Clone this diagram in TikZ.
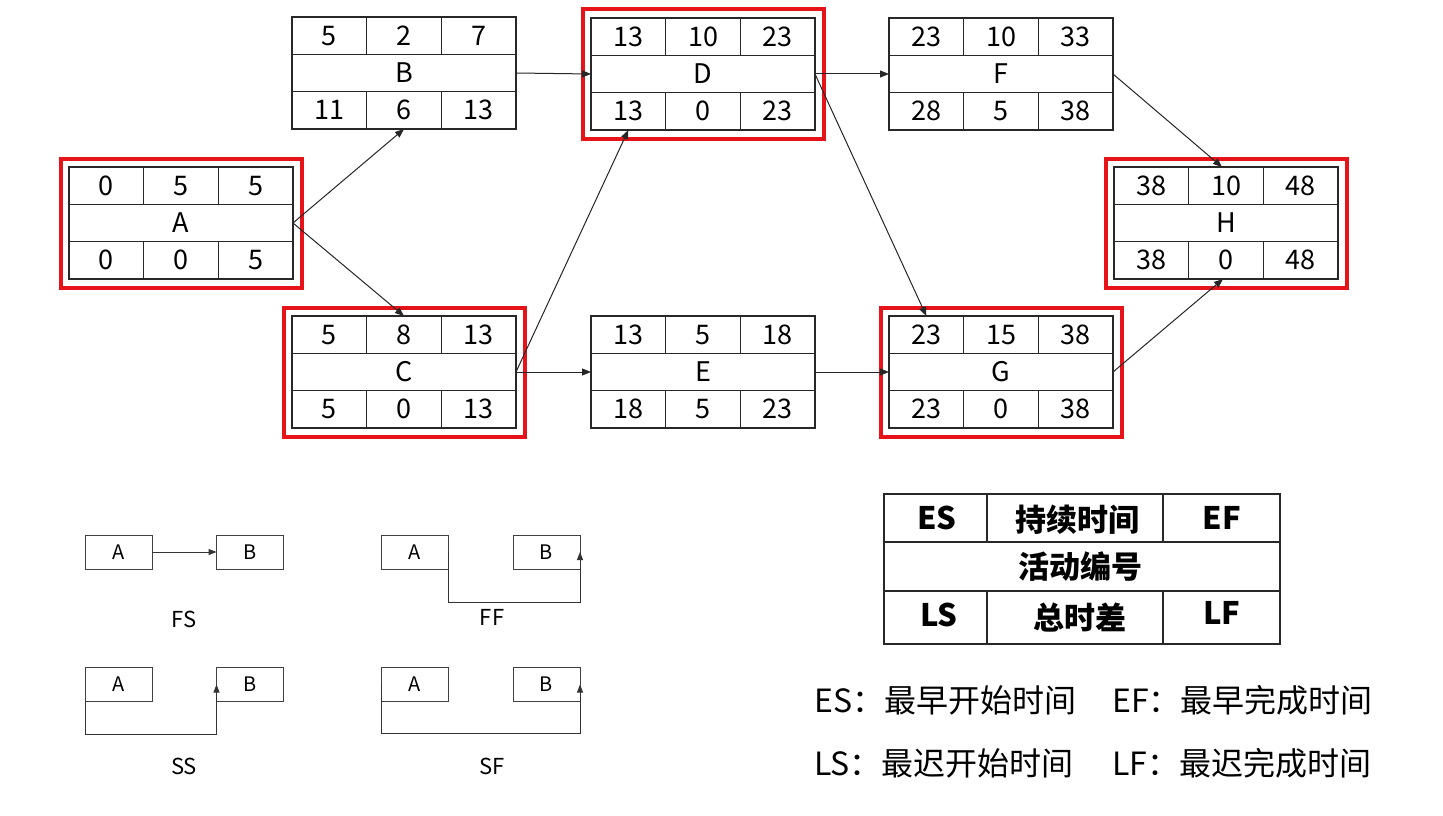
\documentclass[tikz,border=0pt]{standalone}
\usepackage{fontspec}
\setmainfont{Noto Sans CJK SC}
\usetikzlibrary{calc,fit,arrows.meta}
\definecolor{critred}{RGB}{230,20,25}
\definecolor{linegray}{RGB}{40,40,40}
\newcommand\actbox[9]{%
  \path #2 coordinate (#1o);
  \node[actbox] (#1) at (#1o) {};
  \draw[cell] ($(#1o)+(0,37.33)$) -- ($(#1o)+(224,37.33)$);
  \draw[cell] ($(#1o)+(0,74.67)$) -- ($(#1o)+(224,74.67)$);
  \draw[cell] ($(#1o)+(74.67,0)$) -- ($(#1o)+(74.67,37.33)$);
  \draw[cell] ($(#1o)+(149.33,0)$) -- ($(#1o)+(149.33,37.33)$);
  \draw[cell] ($(#1o)+(74.67,74.67)$) -- ($(#1o)+(74.67,112)$);
  \draw[cell] ($(#1o)+(149.33,74.67)$) -- ($(#1o)+(149.33,112)$);
  \node[num] (#1es) at ($(#1o)+(37.33,18.67)$) {#3};
  \node[num] (#1du) at ($(#1o)+(112,18.67)$) {#4};
  \node[num] (#1ef) at ($(#1o)+(186.67,18.67)$) {#5};
  \node[num] (#1id) at ($(#1o)+(112,56)$) {#6};
  \node[num] (#1ls) at ($(#1o)+(37.33,93.33)$) {#7};
  \node[num] (#1tf) at ($(#1o)+(112,93.33)$) {#8};
  \node[num] (#1lf) at ($(#1o)+(186.67,93.33)$) {#9};
}
\begin{document}
\begin{tikzpicture}[x=1pt,y=-1pt,
  actbox/.style={draw=linegray, line width=1.3pt, minimum width=224pt, minimum height=112pt, inner sep=0pt, outer sep=0pt, anchor=north west},
  cell/.style={draw=linegray, line width=1.3pt},
  num/.style={font=\fontsize{27}{29}\selectfont, inner sep=0pt},
  crit/.style={draw=critred, line width=4pt, inner sep=8.5pt},
  arr/.style={draw=black!85, line width=1pt, -{Triangle[length=9pt,width=7pt]}},
  arrs/.style={draw=black!80, line width=1pt, -{Triangle[length=8pt,width=6pt]}},
  sbox/.style={draw=black!75, line width=1pt, minimum width=67pt, minimum height=34pt, inner sep=0pt, outer sep=0pt, font=\fontsize{20}{22}\selectfont},
  slabel/.style={font=\fontsize{22}{24}\selectfont, inner sep=0pt},
  lgtext/.style={font=\fontsize{31}{33}\selectfont\bfseries, inner sep=0pt},
  note/.style={font=\fontsize{32}{34}\selectfont, inner sep=0pt, anchor=west}
]
\useasboundingbox (0,0) rectangle (1443,816);
\fill[white] (0,0) rectangle (1443,816);

% activity boxes
\actbox{A}{(69,167)}{0}{5}{5}{A}{0}{0}{5}
\actbox{B}{(292,17)}{5}{2}{7}{B}{11}{6}{13}
\actbox{C}{(292,316)}{5}{8}{13}{C}{5}{0}{13}
\actbox{D}{(591,18)}{13}{10}{23}{D}{13}{0}{23}
\actbox{E}{(591,316)}{13}{5}{18}{E}{18}{5}{23}
\actbox{F}{(889,18)}{23}{10}{33}{F}{28}{5}{38}
\actbox{G}{(889,316)}{23}{15}{38}{G}{23}{0}{38}
\actbox{H}{(1114,167)}{38}{10}{48}{H}{38}{0}{48}

% critical path frames
\node[crit, fit=(A)] (Ar) {};
\node[crit, fit=(C)] (Cr) {};
\node[crit, fit=(D)] (Dr) {};
\node[crit, fit=(G)] (Gr) {};
\node[crit, fit=(H)] (Hr) {};

% connectors
\draw[arr] (A.east) -- (B.south);
\draw[arr] (A.east) -- (C.north);
\draw[arr] (B.east) -- (D.west);
\draw[arr] (C.east) -- ($(D.south west)!1/6!(D.south east)$);
\draw[arr] (C.east) -- (E.west);
\draw[arr] (D.east) -- (F.west);
\draw[arr] (D.east) -- ($(G.north west)!1/6!(G.north east)$);
\draw[arr] (E.east) -- (G.west);
\draw[arr] (F.east) -- ($(H.north)+(-4,0)$);
\draw[arr] (G.east) -- ($(H.south)+(-3,0)$);

% dependency legend
\node[sbox] (fsA) at (118.5,552) {A};
\node[sbox] (fsB) at (250,552) {B};
\draw[arrs] (fsA.east) -- (fsB.west);
\node[slabel] (fsL) at (184,619) {FS};

\node[sbox] (ffA) at (415,552) {A};
\node[sbox] (ffB) at (546.5,552) {B};
\draw[arrs] (ffA.east) -- ++(0,50) -| (ffB.east);
\node[slabel] (ffL) at (492,617) {FF};

\node[sbox] (ssA) at (118.5,684.5) {A};
\node[sbox] (ssB) at (250,684.5) {B};
\draw[arrs] (ssA.south west) -- ++(0,33) -| (ssB.west);
\node[slabel] (ssL) at (184,766) {SS};

\node[sbox] (sfA) at (415,684.5) {A};
\node[sbox] (sfB) at (546.5,684.5) {B};
\draw[arrs] (sfA.west) -- ++(0,49) -| (sfB.east);
\node[slabel] (sfL) at (492,766) {SF};

% key table
\node[draw=linegray, line width=1.5pt, minimum width=396pt, minimum height=150pt, inner sep=0pt, anchor=north west] (lg) at (883,493) {};
\draw[cell, line width=1.5pt] (883,542) -- (1279,542);
\draw[cell, line width=1.5pt] (883,591) -- (1279,591);
\draw[cell, line width=1.5pt] (987,493) -- (987,542);
\draw[cell, line width=1.5pt] (1163,493) -- (1163,542);
\draw[cell, line width=1.5pt] (987,591) -- (987,643);
\draw[cell, line width=1.5pt] (1163,591) -- (1163,643);
\node[lgtext] (kES) at (937,518) {ES};
\node[lgtext] (kDU) at (1077,520) {持续时间};
\node[lgtext] (kEF) at (1222,518) {EF};
\node[lgtext] (kID) at (1080,567) {活动编号};
\node[lgtext] (kLS) at (939,615) {LS};
\node[lgtext] (kTF) at (1080,618) {总时差};
\node[lgtext] (kLF) at (1222,613) {LF};

% notes
\node[note] (n1) at (814,700) {ES：最早开始时间};
\node[note] (n2) at (1112,700) {EF：最早完成时间};
\node[note] (n3) at (814,763) {LS：最迟开始时间};
\node[note] (n4) at (1112,763) {LF：最迟完成时间};
\end{tikzpicture}
\end{document}
